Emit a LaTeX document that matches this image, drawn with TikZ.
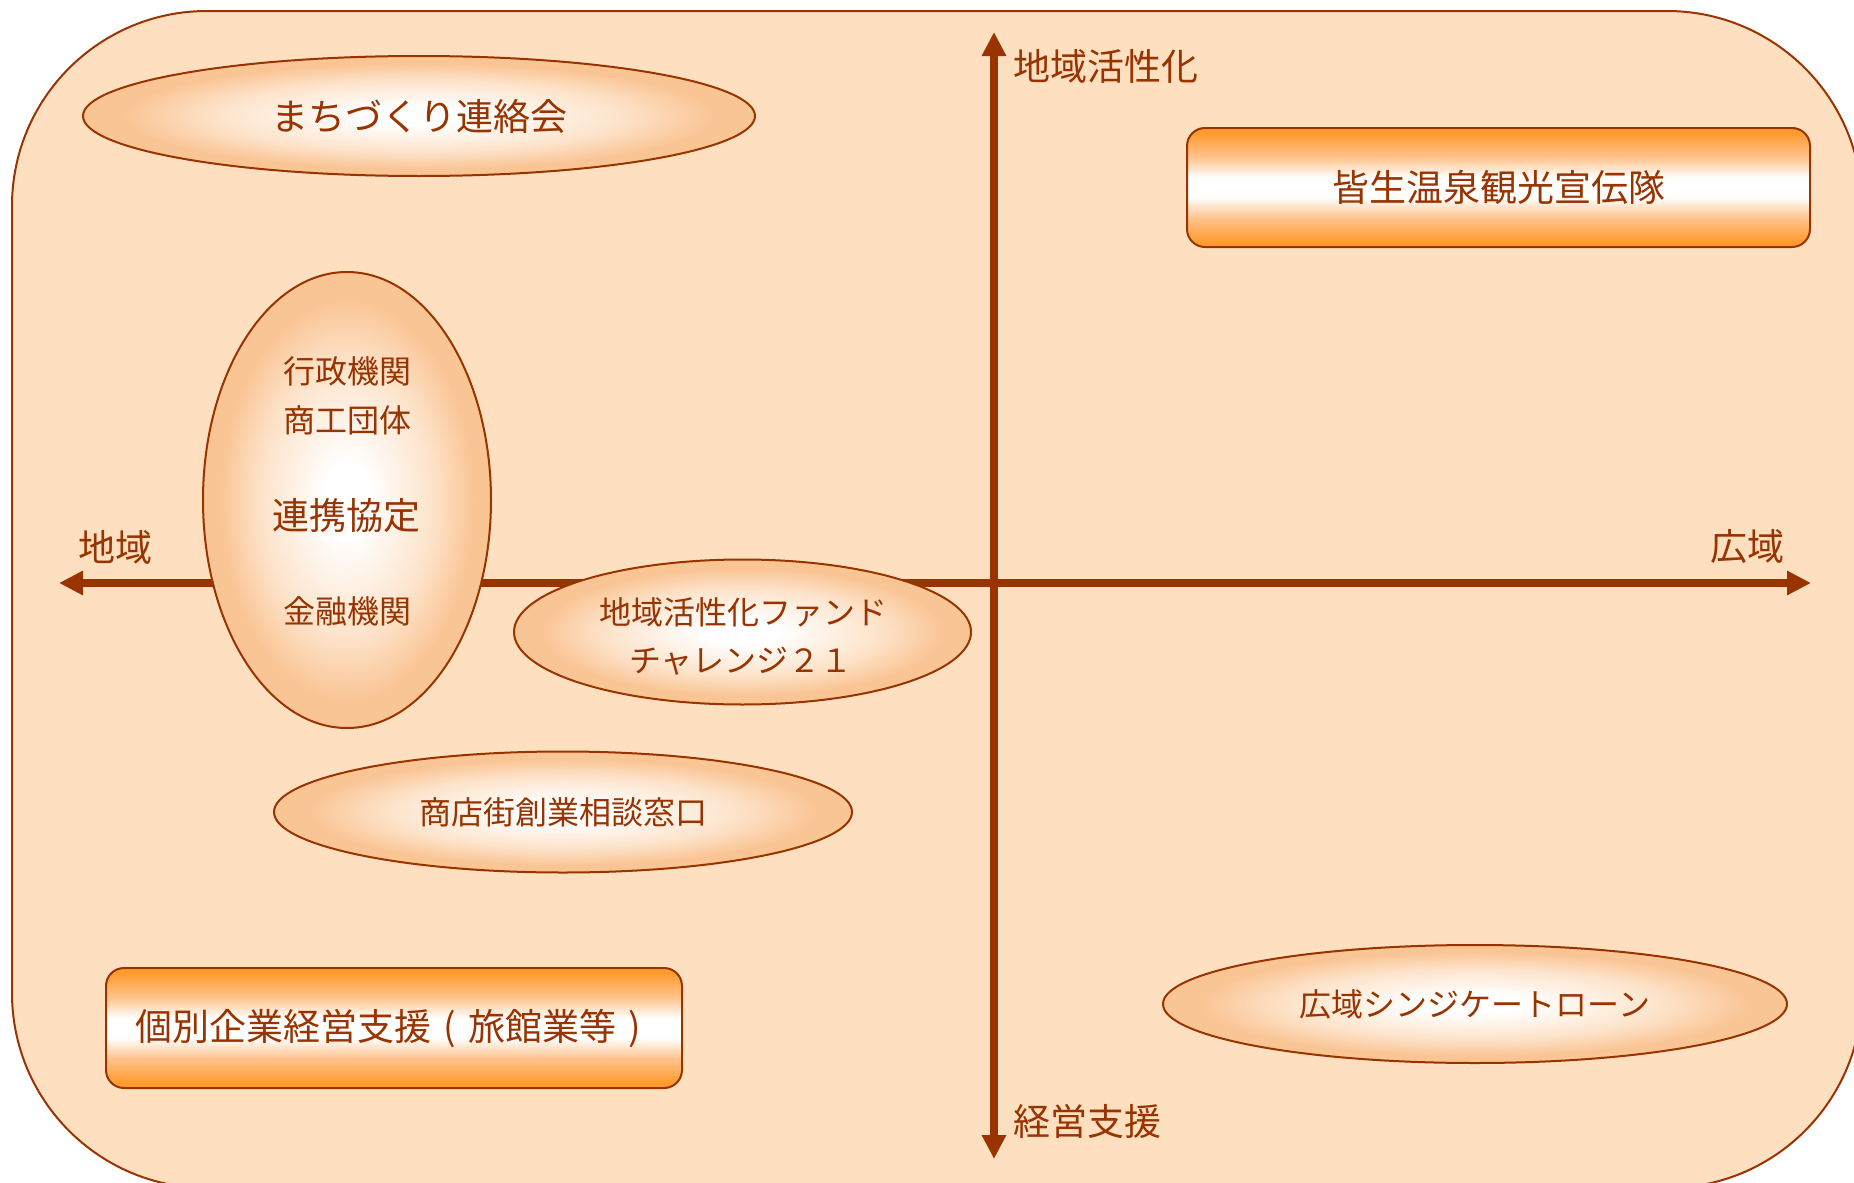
\documentclass[tikz,border=0pt]{standalone}
\usepackage{fontspec}
\setmainfont{Noto Sans CJK JP}
\usetikzlibrary{shapes.geometric,arrows.meta}
\definecolor{bg}{HTML}{FEDFC0}
\definecolor{brn}{HTML}{993300}
\definecolor{ellc}{HTML}{FAC595}
\definecolor{ellm}{HTML}{FDE3CA}
\definecolor{orng}{HTML}{FF9A2E}
\definecolor{orlt}{HTML}{FFC28A}
\pgfdeclareradialshading{ellshade}{\pgfpoint{0bp}{0bp}}{color(0bp)=(white); color(4bp)=(white); color(15bp)=(ellm); color(22bp)=(ellc); color(50bp)=(ellc)}
\pgfdeclareverticalshading{barshade}{100bp}{color(0bp)=(orng); color(27bp)=(orng); color(37bp)=(orlt); color(46bp)=(white); color(54bp)=(white); color(63bp)=(orlt); color(73bp)=(orng); color(100bp)=(orng)}
\newcommand\fbig{\fontsize{18.5pt}{22pt}\selectfont}
\newcommand\fsm{\fontsize{16pt}{19pt}\selectfont}
\begin{document}
\begin{tikzpicture}[x=0.5pt,y=-0.5pt,
  txt/.style={text=brn, inner sep=0pt},
  ell/.style={ellipse, draw=brn, line width=1pt, shading=ellshade, inner sep=0pt, text=brn},
  bar/.style={draw=brn, line width=1pt, rounded corners=9pt, shading=barshade, inner sep=0pt, text=brn},
  axis/.style={draw=brn, line width=4pt, {Triangle[length=12pt,width=11.5pt]}-{Triangle[length=12pt,width=11.5pt]}}]
\useasboundingbox (0,0) rectangle (1854,1183);
\begin{scope}
\clip (0,0) rectangle (1854,1183);
\draw[draw=brn, line width=1pt, fill=bg, rounded corners=97.5pt] (12,11) rectangle (1862,1188);
\end{scope}
% axes
\coordinate (xl) at (59,583);
\coordinate (xr) at (1811,583);
\coordinate (yt) at (994,32);
\coordinate (yb) at (994,1159);
\draw[axis] (xl) -- (xr);
\draw[axis] (yb) -- (yt);
% axis labels
\node[txt, font=\fbig, anchor=west] (lup) at (1013,66) {地域活性化};
\node[txt, font=\fbig, anchor=west] (ldown) at (1013,1121) {経営支援};
\node[txt, font=\fbig] (lleft) at (115,547) {地域};
\node[txt, font=\fbig] (lright) at (1747,547) {広域};
% shapes
\node[ell, minimum width=336pt, minimum height=60pt, font=\fbig] (machi) at (419,116) {まちづくり連絡会};
\node[ell, minimum width=144pt, minimum height=228pt] (renkei) at (347,500) {};
\node[txt, font=\fsm] (gyosei) at (347,371) {行政機関};
\node[txt, font=\fsm] (shoko) at (347,420) {商工団体};
\node[txt, font=\fbig] (kyotei) at (346,516) {連携協定};
\node[txt, font=\fsm] (kinyu) at (347,611) {金融機関};
\node[ell, minimum width=228.5pt, minimum height=72.5pt] (fund) at (742.5,632) {};
\node[txt, font=\fsm] (fund1) at (743,612) {地域活性化ファンド};
\node[txt, font=\fsm] (fund2) at (741,661) {チャレンジ２１};
\node[ell, minimum width=289pt, minimum height=60.5pt, font=\fsm] (shoten) at (563,812) {商店街創業相談窓口};
\node[ell, minimum width=312pt, minimum height=59pt, font=\fsm] (kouiki) at (1475,1004) {広域シンジケートローン};
\node[bar, minimum width=311.5pt, minimum height=59.5pt, font=\fbig] (kaike) at (1498.5,187.5) {皆生温泉観光宣伝隊};
\node[bar, minimum width=288pt, minimum height=60pt, font=\fbig] (kobetsu) at (394,1028) {個別企業経営支援\makebox[1em]{(}旅館業等\makebox[1em]{)}};
\end{tikzpicture}
\end{document}
